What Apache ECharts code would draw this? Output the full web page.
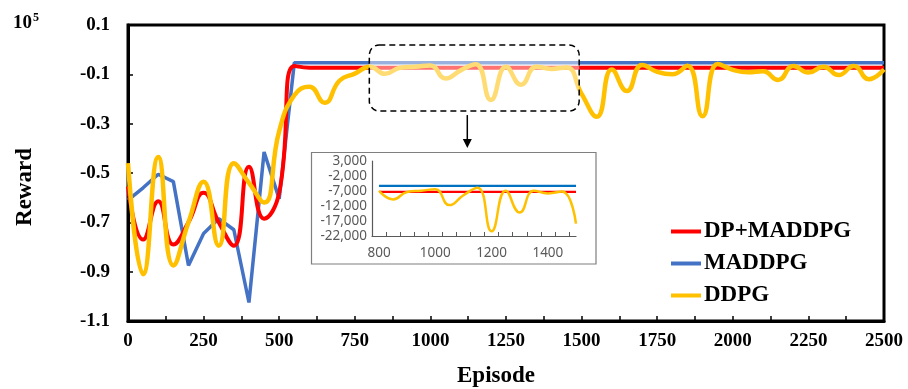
<!DOCTYPE html>
<html>
<head>
<meta charset="utf-8">
<script src="https://cdn.jsdelivr.net/npm/echarts@6/dist/echarts.min.js"></script>
<style>
  html, body { margin: 0; padding: 0; background: #fff; }
  #main { width: 908px; height: 389px; }
</style>
</head>
<body>
<div id="main"></div>
<script>
  // episode axis (one point every 50 episodes)
  const episodes = [0, 50, 100, 150, 200, 250, 300, 350, 400, 450, 500, 550, 600, 650, 700, 750,
    800, 850, 900, 950, 1000, 1050, 1100, 1150, 1200, 1250, 1300, 1350, 1400, 1450, 1500,
    1550, 1600, 1650, 1700, 1750, 1800, 1850, 1900, 1950, 2000, 2050, 2100, 2150, 2200,
    2250, 2300, 2350, 2400, 2450, 2500];

  // reward in units of 10^5
  const maddpg = [-0.61, -0.56, -0.505, -0.535, -0.875, -0.745, -0.685, -0.73, -1.025, -0.415, -0.605, -0.053,
    -0.053, -0.053, -0.053, -0.053, -0.053, -0.053, -0.053, -0.053, -0.053, -0.053, -0.053, -0.053,
    -0.053, -0.053, -0.053, -0.053, -0.053, -0.053, -0.053, -0.053, -0.053, -0.053, -0.053, -0.053,
    -0.053, -0.053, -0.053, -0.053, -0.053, -0.053, -0.053, -0.053, -0.053, -0.053, -0.053, -0.053,
    -0.053, -0.053, -0.053];
  const dpMaddpg = [-0.555, -0.77, -0.615, -0.79, -0.7, -0.58, -0.7, -0.795, -0.475, -0.685, -0.58, -0.066,
    -0.073, -0.073, -0.073, -0.073, -0.073, -0.073, -0.073, -0.073, -0.073, -0.073, -0.073, -0.073,
    -0.073, -0.073, -0.073, -0.073, -0.073, -0.073, -0.073, -0.073, -0.073, -0.073, -0.073, -0.073,
    -0.073, -0.073, -0.073, -0.073, -0.073, -0.073, -0.073, -0.073, -0.073, -0.073, -0.073, -0.073,
    -0.073, -0.073, -0.073];
  const ddpg = [-0.46, -0.91, -0.435, -0.875, -0.7, -0.535, -0.795, -0.46, -0.54, -0.62, -0.33, -0.185,
    -0.15, -0.215, -0.125, -0.097, -0.069, -0.098, -0.073, -0.069, -0.064, -0.117, -0.084, -0.059,
    -0.204, -0.069, -0.142, -0.069, -0.078, -0.072, -0.179, -0.272, -0.08, -0.168, -0.062, -0.09,
    -0.1, -0.065, -0.27, -0.058, -0.082, -0.092, -0.088, -0.123, -0.066, -0.093, -0.069, -0.103,
    -0.066, -0.12, -0.08];

  // tick labels
  const xLabelTicks = [0, 250, 500, 750, 1000, 1250, 1500, 1750, 2000, 2250, 2500];
  const xTickMarks = [0, 125, 250, 375, 500, 625, 750, 875, 1000, 1125, 1250, 1375, 1500, 1625,
    1750, 1875, 2000, 2125, 2250, 2375, 2500];
  const yLabelTicks = [-1.1, -0.9, -0.7, -0.5, -0.3, -0.1, 0.1];

  // zoomed-in inset (episodes 800-1500, raw reward)
  const insetRange = [800, 1500];
  const insetXLabels = [800, 1000, 1200, 1400];
  const insetXTicks = [825, 875, 925, 975, 1025, 1075, 1125, 1175, 1225, 1275, 1325, 1375, 1425, 1475];
  const insetYTicks = [-22000, -17000, -12000, -7000, -2000, 3000];

  const RED = '#ff0000';
  const BLUE = '#4472c4';
  const YELLOW = '#ffc000';
  const SERIF = '"Liberation Serif", "Times New Roman", serif';

  const pairs = arr => episodes.map((e, i) => [e, arr[i]]);
  const insetPairs = arr => episodes
    .map((e, i) => [e, Math.round(arr[i] * 100000)])
    .filter(p => p[0] >= insetRange[0] && p[0] <= insetRange[1]);

  const withComma = v => {
    const s = String(Math.abs(v)).replace(/\B(?=(\d{3})+(?!\d))/g, ',');
    return (v < 0 ? '-' : '') + s;
  };

  const chart = echarts.init(document.getElementById('main'));

  const option = {
    animation: false,
    backgroundColor: '#fff',
    grid: [
      { left: 128, right: 24, top: 25, bottom: 68, show: true, borderColor: '#000', borderWidth: 3 },
      { left: 372, right: 332, top: 161, bottom: 153 }
    ],
    legend: {
      data: ['DP+MADDPG', 'MADDPG', 'DDPG'],
      orient: 'vertical',
      left: 671,
      top: 220,
      icon: 'rect',
      itemWidth: 30,
      itemHeight: 4,
      itemGap: 9,
      padding: 0,
      z: 60,
      textStyle: { fontFamily: SERIF, fontWeight: 'bold', fontSize: 23, color: '#000', padding: [0, 0, 0, -2] }
    },
    xAxis: [
      {
        type: 'value', gridIndex: 0, min: 0, max: 2500,
        axisLine: { onZero: false, lineStyle: { color: '#000', width: 3 } },
        axisTick: { inside: true, length: 5, lineStyle: { color: '#000', width: 1.5 }, customValues: xTickMarks },
        axisLabel: { customValues: xLabelTicks, margin: 11, color: '#000', fontFamily: SERIF, fontWeight: 'bold', fontSize: 19,
          formatter: v => String(v) },
        splitLine: { show: false }
      },
      {
        type: 'value', gridIndex: 1, min: 775, max: 1500, z: 5,
        axisLine: { onZero: false, lineStyle: { color: '#595959', width: 1.2 } },
        axisTick: { inside: true, length: 4, lineStyle: { color: '#595959', width: 1 }, customValues: insetXTicks },
        axisLabel: { customValues: insetXLabels, margin: 10, color: '#595959', fontFamily: '"Noto Sans", sans-serif', fontSize: 13.5,
          formatter: v => String(v) },
        splitLine: { show: false }
      }
    ],
    yAxis: [
      {
        type: 'value', gridIndex: 0, min: -1.1, max: 0.1,
        axisLine: { show: true, onZero: false, lineStyle: { color: '#000', width: 3 } },
        axisTick: { show: true, inside: true, length: 5, lineStyle: { color: '#000', width: 1.5 }, customValues: yLabelTicks },
        axisLabel: {
          customValues: yLabelTicks, margin: 18, color: '#000', fontFamily: SERIF, fontWeight: 'bold', fontSize: 19,
          formatter: v => v.toFixed(1)
        },
        splitLine: { show: false }
      },
      {
        type: 'value', gridIndex: 1, min: -22000, max: 3000, z: 5,
        axisLine: { show: true, onZero: false, lineStyle: { color: '#595959', width: 1.2 } },
        axisTick: { show: false },
        axisLabel: {
          customValues: insetYTicks, margin: 5, color: '#595959', fontFamily: '"Noto Sans", sans-serif', fontSize: 13.5,
          formatter: withComma
        },
        splitLine: { show: false }
      }
    ],
    series: [
      { name: 'MADDPG', type: 'line', data: pairs(maddpg), showSymbol: false, symbol: 'none',
        lineStyle: { color: BLUE, width: 3.5 }, itemStyle: { color: BLUE } },
      { name: 'DP+MADDPG', type: 'line', data: pairs(dpMaddpg), smooth: 0.5, showSymbol: false, symbol: 'none',
        lineStyle: { color: RED, width: 4 }, itemStyle: { color: RED } },
      { name: 'DDPG', type: 'line', data: pairs(ddpg), smooth: 0.5, showSymbol: false, symbol: 'none',
        lineStyle: { color: YELLOW, width: 4.5 }, itemStyle: { color: YELLOW } },

      { name: 'MADDPG inset', type: 'line', xAxisIndex: 1, yAxisIndex: 1, data: insetPairs(maddpg), z: 6,
        symbol: 'none', lineStyle: { color: '#0070c0', width: 2.2 } },
      { name: 'DP+MADDPG inset', type: 'line', xAxisIndex: 1, yAxisIndex: 1, data: insetPairs(dpMaddpg), z: 6,
        symbol: 'none', lineStyle: { color: RED, width: 2.2 } },
      { name: 'DDPG inset', type: 'line', xAxisIndex: 1, yAxisIndex: 1, data: insetPairs(ddpg), z: 7,
        smooth: 0.5, symbol: 'none', lineStyle: { color: YELLOW, width: 2.5 } }
    ]
  };

  chart.setOption(option);

  // dashed highlight box over the zoomed region, and arrow to the inset
  const p1 = chart.convertToPixel({ gridIndex: 0 }, [798, 0.019]);
  const p2 = chart.convertToPixel({ gridIndex: 0 }, [1492, -0.249]);
  const arrowX = chart.convertToPixel({ gridIndex: 0 }, [1122, 0])[0];

  chart.setOption({
    graphic: [
      { type: 'rect', z: 0, shape: { x: 311.5, y: 152.5, width: 284.5, height: 111.5 },
        style: { fill: '#fff', stroke: '#7f7f7f', lineWidth: 1.2 } },
      { type: 'rect', z: 50, shape: { x: p1[0], y: p1[1], width: p2[0] - p1[0], height: p2[1] - p1[1], r: 10 },
        style: { fill: 'rgba(255,255,255,0.45)', stroke: '#000', lineWidth: 1.5, lineDash: [6, 4] } },
      { type: 'line', z: 50, shape: { x1: arrowX, y1: p2[1] + 4, x2: arrowX, y2: 141 },
        style: { stroke: '#000', lineWidth: 1.5 } },
      { type: 'polygon', z: 50, shape: { points: [[arrowX - 4.5, 139], [arrowX + 4.5, 139], [arrowX, 148]] },
        style: { fill: '#000' } },
      { type: 'text', z: 50, x: 25, y: 187, rotation: Math.PI / 2,
        style: { text: 'Reward', fontFamily: SERIF, fontWeight: 'bold', fontSize: 23, fill: '#000',
          align: 'center', verticalAlign: 'middle' } },
      { type: 'text', z: 50, x: 496, y: 376,
        style: { text: 'Episode', fontFamily: SERIF, fontWeight: 'bold', fontSize: 23, fill: '#000',
          align: 'center', verticalAlign: 'middle' } },
      { type: 'text', z: 50, x: 13, y: 23,
        style: { text: '10', fontFamily: SERIF, fontWeight: 'bold', fontSize: 19, fill: '#000',
          align: 'left', verticalAlign: 'middle' } },
      { type: 'text', z: 50, x: 33, y: 18,
        style: { text: '5', fontFamily: SERIF, fontWeight: 'bold', fontSize: 12, fill: '#000',
          align: 'left', verticalAlign: 'middle' } }
    ]
  });
</script>
</body>
</html>
